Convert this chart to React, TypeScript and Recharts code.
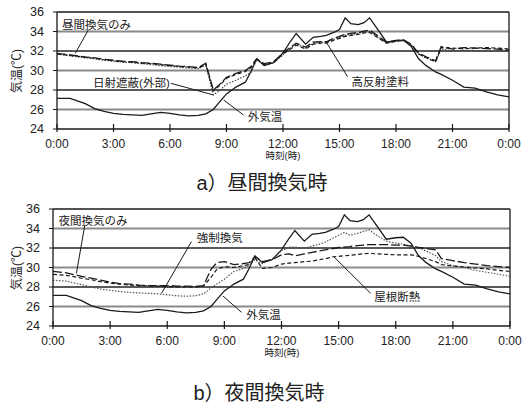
import { LineChart, Line, XAxis, YAxis, ReferenceLine, ReferenceDot } from 'recharts'

const hours = [
  0, 0.7, 1.5, 2, 2.5, 3, 3.5, 4, 4.5, 5, 5.5, 6, 6.5, 7, 7.5,
  7.9, 8.3, 8.6,
  9, 9.5, 10, 10.3, 10.6,
  11, 11.5, 12, 12.4, 12.7,
  13.2, 13.6, 14, 14.3, 14.7,
  15, 15.3, 15.6, 16, 16.3, 16.6,
  17, 17.5, 18, 18.4, 18.8,
  19.2, 19.6, 20.1, 20.4,
  21, 21.6, 22.2, 22.8, 23.4, 24,
]

// 外気温
const outdoor = [
  27.15, 27.15, 26.6, 26.1, 25.8, 25.6, 25.5, 25.45, 25.4, 25.55, 25.7, 25.6, 25.45, 25.35, 25.4,
  25.55, 26.0, 26.7,
  27.6, 28.3, 28.8, 29.9, 31.2,
  30.5, 30.8, 31.8, 33.0, 33.8,
  32.7, 33.4, 33.5, 33.6, 33.9,
  34.2, 35.4, 34.8, 34.7, 34.9, 35.4,
  34.3, 32.9, 33.05, 33.1, 32.5,
  31.2, 30.5, 29.85, 29.6,
  29.0, 28.3, 28.2, 27.8, 27.5, 27.3,
]

// a) 昼間換気時
const dayOnly = [
  31.75, 31.6, 31.4, 31.3, 31.15, 31.05, 30.95, 30.9, 30.8, 30.75, 30.65, 30.55, 30.45, 30.4, 30.3,
  30.75, 28.0, 28.5,
  29.3, 29.7, 30.0, 30.4, 31.2,
  30.7, 30.9, 31.8, 32.4, 32.8,
  32.4, 32.9, 32.95, 32.95, 33.3,
  33.5, 33.7, 33.8, 33.9, 34.05, 34.15,
  33.6, 32.9, 33.1, 33.15, 32.7,
  31.8, 31.4, 31.0, 32.45,
  32.2, 32.35, 32.3, 32.25, 32.2, 32.1,
]
const highReflect = [
  31.7, 31.55, 31.35, 31.25, 31.1, 31.0, 30.9, 30.85, 30.75, 30.7, 30.6, 30.5, 30.4, 30.35, 30.25,
  30.6, 27.9, 28.4,
  29.2, 29.6, 29.9, 30.3, 31.2,
  30.6, 30.8, 31.7, 32.2, 32.6,
  32.2, 32.7, 32.8, 32.8, 33.1,
  33.3, 33.5, 33.6, 33.7, 33.85, 33.9,
  33.4, 32.8, 33.0, 33.1, 32.6,
  31.7, 31.3, 30.9, 32.35,
  32.3, 32.25, 32.3, 32.35, 32.3, 32.2,
]
const shading = [
  31.7, 31.5, 31.3, 31.2, 31.05, 30.95, 30.85, 30.8, 30.7, 30.6, 30.5, 30.4, 30.35, 30.25, 30.2,
  30.55, 27.5, 27.9,
  28.6, 29.0, 29.45, 29.8, 31.1,
  30.6, 30.8, 31.6, 32.3, 32.7,
  32.3, 32.8, 32.9, 32.9, 33.2,
  33.4, 33.6, 33.7, 33.8, 33.95, 34.0,
  33.5, 32.8, 33.0, 33.1, 32.6,
  31.7, 31.3, 30.9, 32.2,
  32.0, 32.1, 32.05, 32.0, 32.0, 31.95,
]

// b) 夜間換気時
const nightOnly = [
  29.6, 29.45, 29.1, 28.9, 28.7, 28.5, 28.35, 28.3, 28.2, 28.15, 28.15, 28.15, 28.1, 28.1, 28.05,
  28.15, 29.8, 30.5,
  30.6, 30.3, 30.4, 30.5, 31.1,
  30.6, 30.8, 31.3, 31.4, 31.2,
  31.4, 31.55, 31.7, 31.8, 31.95,
  32.05, 32.1, 32.15, 32.25, 32.3, 32.35,
  32.35, 32.35, 32.3, 32.3, 32.2,
  32.05, 31.95, 31.8, 30.9,
  30.7, 30.5, 30.35, 30.2, 30.1, 30.0,
]
const roofInsul = [
  29.3, 29.2, 28.9, 28.75, 28.55, 28.4, 28.3, 28.2, 28.15, 28.1, 28.1, 28.05, 28.0, 28.0, 28.0,
  28.1, 29.0, 29.8,
  30.1, 30.0, 30.2, 30.3, 31.0,
  29.9, 30.0, 30.35, 30.45, 30.5,
  30.6, 30.65, 30.8, 30.9, 31.1,
  31.15, 31.2, 31.25, 31.35, 31.4, 31.45,
  31.4, 31.35, 31.3, 31.3, 31.3,
  31.15, 30.9, 30.6, 30.3,
  30.15, 30.05, 29.95, 29.85, 29.7, 29.6,
]
const forced = [
  28.7, 28.6, 28.25, 28.0, 27.8, 27.65, 27.55, 27.45, 27.4, 27.35, 27.3, 27.2, 27.1, 27.05, 27.1,
  27.3, 27.9, 28.3,
  28.8, 29.6, 29.9, 30.2, 30.8,
  30.4, 30.8, 31.7, 32.1, 32.1,
  31.95, 32.2, 32.4, 32.6, 33.0,
  33.3, 33.6, 33.3, 33.5, 33.7, 33.85,
  33.3, 32.7, 32.5, 32.4, 32.2,
  32.0, 31.7, 31.2, 30.6,
  30.2, 30.0, 29.7, 29.5, 29.3, 29.1,
]

const xTicks = [0, 3, 6, 9, 12, 15, 18, 21, 24]
const yTicks = [24, 26, 28, 30, 32, 34, 36]
const gridLight = [26, 30, 34]
const gridDark = [28, 32]

const dayData = hours.map((t, i) => ({ t, outdoor: outdoor[i], dayOnly: dayOnly[i], highReflect: highReflect[i], shading: shading[i] }))
const nightData = hours.map((t, i) => ({ t, outdoor: outdoor[i], nightOnly: nightOnly[i], roofInsul: roofInsul[i], forced: forced[i] }))

const FONT = "'Liberation Sans', Arial, 'Noto Sans CJK JP', sans-serif"
const INK = '#1a1a1a'

const fmtHour = (h: number) => `${h % 24}:00`

const XTick = (props: any) => {
  const { x, y, payload } = props
  return (
    <g>
      <line x1={x} x2={x} y1={y - 5} y2={y + 3} stroke={INK} strokeWidth={1.2} />
      <text x={x} y={y + 19} textAnchor="middle" fontSize={12} fill="#222" fontFamily={FONT}>
        {fmtHour(payload.value)}
      </text>
    </g>
  )
}

type Note = { text: string; at: [number, number]; from: [number, number]; to: [number, number] }

function Panel({ data, series, notes, leftW, rightM }: {
  data: any[]
  series: { key: string; dash?: string; color: string; width: number }[]
  notes: Note[]
  leftW: number
  rightM: number
}) {
  return (
    <LineChart width={528} height={165} data={data} margin={{ top: 12, right: rightM, bottom: 6, left: 0 }}>
      <XAxis
        dataKey="t"
        type="number"
        domain={[0, 24]}
        ticks={xTicks}
        interval={0}
        tick={<XTick />}
        tickLine={false}
        tickSize={0}
        tickMargin={0}
        axisLine={{ stroke: INK, strokeWidth: 1.3 }}
        height={30}
      />
      <YAxis
        type="number"
        domain={[24, 36]}
        ticks={yTicks}
        interval={0}
        width={leftW}
        tickSize={4}
        tickMargin={9}
        tick={{ fontSize: 12.5, fill: '#222', fontFamily: FONT }}
        tickLine={{ stroke: INK }}
        axisLine={{ stroke: INK, strokeWidth: 1.3 }}
      />
      {gridLight.map(v => (
        <ReferenceLine key={'l' + v} y={v} stroke="#8a8a8a" strokeWidth={2.2} />
      ))}
      {gridDark.map(v => (
        <ReferenceLine key={'d' + v} y={v} stroke="#222" strokeWidth={1.4} />
      ))}
      <ReferenceLine y={36} stroke={INK} strokeWidth={1.3} />
      <ReferenceLine x={24} stroke={INK} strokeWidth={1.3} />
      {series.map(s => (
        <Line
          key={s.key}
          dataKey={s.key}
          type="linear"
          stroke={s.color}
          strokeWidth={s.width}
          strokeDasharray={s.dash}
          dot={false}
          isAnimationActive={false}
        />
      ))}
      {notes.map(n => (
        <ReferenceLine
          key={'s' + n.text}
          segment={[{ x: n.from[0], y: n.from[1] }, { x: n.to[0], y: n.to[1] }]}
          stroke={INK}
          strokeWidth={1}
        />
      ))}
      {notes.map(n => (
        <ReferenceDot
          key={'t' + n.text}
          x={n.at[0]}
          y={n.at[1]}
          r={0}
          fill="none"
          stroke="none"
          label={{ value: n.text, position: 'center', fontSize: 11.5, fill: '#222', fontFamily: FONT }}
        />
      ))}
    </LineChart>
  )
}

const daySeries = [
  { key: 'outdoor', color: INK, width: 1.3 },
  { key: 'shading', dash: '1.5 1.5', color: '#444', width: 1.2 },
  { key: 'highReflect', dash: '4 2.5', color: INK, width: 1.2 },
  { key: 'dayOnly', dash: '9 3', color: INK, width: 1.3 },
]
const nightSeries = [
  { key: 'outdoor', color: INK, width: 1.3 },
  { key: 'forced', dash: '1.5 1.5', color: '#555', width: 1.2 },
  { key: 'roofInsul', dash: '4 2.5', color: INK, width: 1.2 },
  { key: 'nightOnly', dash: '9 3', color: INK, width: 1.3 },
]

const dayNotes: Note[] = [
  { text: '昼間換気のみ', at: [2.1, 34.67], from: [1.66, 34.15], to: [0.97, 31.76] },
  { text: '日射遮蔽(外部)', at: [3.95, 28.69], from: [6.05, 28.69], to: [8.31, 27.49] },
  { text: '外気温', at: [11.05, 25.26], from: [9.9, 25.44], to: [8.85, 26.97] },
  { text: '高反射塗料', at: [17.16, 28.85], from: [15.43, 29.37], to: [14.28, 32.96] },
]
const nightNotes: Note[] = [
  { text: '夜間換気のみ', at: [2.1, 34.77], from: [1.67, 34.36], to: [1.23, 29.4] },
  { text: '強制換気', at: [8.76, 33.0], from: [7.27, 32.65], to: [5.7, 27.35] },
  { text: '外気温', at: [11.05, 25.13], from: [9.9, 25.4], to: [8.93, 27.07] },
  { text: '屋根断熱', at: [18.08, 27.0], from: [16.68, 27.35], to: [14.75, 31.1] },
]

const abs = (left: number, top: number, extra: any = {}) => ({ position: 'absolute' as const, left, top, fontFamily: FONT, color: '#222', whiteSpace: 'nowrap' as const, lineHeight: 1, ...extra })

export default function App() {
  return (
    <div style={{ position: 'absolute', left: 0, top: 0, width: 528, height: 405, background: '#fff', overflow: 'hidden' }}>
      <div style={abs(0, 0)}>
        <Panel data={dayData} series={daySeries} notes={dayNotes} leftW={57} rightM={19} />
      </div>
      <div style={abs(0, 197)}>
        <Panel data={nightData} series={nightSeries} notes={nightNotes} leftW={53} rightM={18} />
      </div>

      <div style={abs(17, 71, { fontSize: 12, transform: 'translate(-50%, -50%) rotate(-90deg)' })}>気温(℃)</div>
      <div style={abs(17, 268, { fontSize: 12, transform: 'translate(-50%, -50%) rotate(-90deg)' })}>気温(℃)</div>

      <div style={abs(283, 156, { fontSize: 9.5, transform: 'translate(-50%, -50%)' })}>時刻(時)</div>
      <div style={abs(282, 353, { fontSize: 9.5, transform: 'translate(-50%, -50%)' })}>時刻(時)</div>

      <div style={abs(262, 183, { fontSize: 20, transform: 'translate(-50%, -50%)' })}>a）昼間換気時</div>
      <div style={abs(259, 393, { fontSize: 20, transform: 'translate(-50%, -50%)' })}>b）夜間換気時</div>
    </div>
  )
}
